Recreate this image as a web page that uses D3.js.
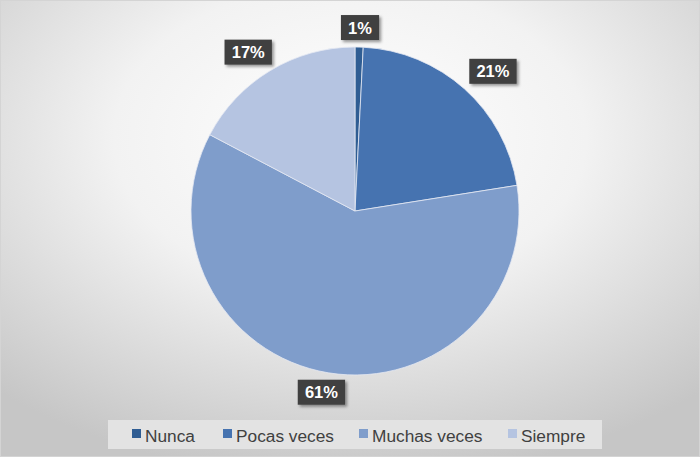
<!DOCTYPE html>
<html><head><meta charset="utf-8">
<script src="https://cdn.jsdelivr.net/npm/d3@7"></script>
<style>body{margin:0;}svg{display:block;}</style>
</head><body>
<script>
const categories = ["Nunca", "Pocas veces", "Muchas veces", "Siempre"];
const values = [0.8, 21.7, 60.2, 17.3];
const labels = ["1%", "21%", "61%", "17%"];
const colors = ["#2f5d93", "#4673b0", "#7f9dcb", "#b5c4e1"];

const W = 700, H = 457;
const svg = d3.select("body").append("svg").attr("width", W).attr("height", H);
const defs = svg.append("defs");
const grad = defs.append("radialGradient").attr("id", "bg")
  .attr("cx", "50%").attr("cy", "30%").attr("r", "75%");
grad.append("stop").attr("offset", "0%").attr("stop-color", "#ffffff");
grad.append("stop").attr("offset", "45%").attr("stop-color", "#f2f2f2");
grad.append("stop").attr("offset", "100%").attr("stop-color", "#c6c6c6");
const sh = defs.append("filter").attr("id", "sh").attr("x", "-30%").attr("y", "-30%").attr("width", "170%").attr("height", "170%");
sh.append("feDropShadow").attr("dx", 2).attr("dy", 2).attr("stdDeviation", 1.6).attr("flood-color", "#000").attr("flood-opacity", 0.4);

svg.append("rect").attr("x", 0).attr("y", 0).attr("width", W).attr("height", H).attr("fill", "url(#bg)");
svg.append("rect").attr("x", 0.5).attr("y", 0.5).attr("width", W - 1).attr("height", H - 1)
  .attr("fill", "none").attr("stroke", "#d4d4d4");

const cx = 355, cy = 211, r = 164;
const pie = d3.pie().sort(null).value(d => d)(values);
const arc = d3.arc().innerRadius(0).outerRadius(r);
const g = svg.append("g").attr("transform", `translate(${cx},${cy})`);
g.selectAll("path").data(pie).join("path")
  .attr("d", arc).attr("fill", (d, i) => colors[i])
  .attr("stroke", "#e4e9f2").attr("stroke-width", 0.8);

// labels (outside end, box pushed away from the circle)
const lg = g.append("g").style("font-family", "'Liberation Sans', Arial, sans-serif")
  .style("font-weight", "bold").style("font-size", "16.5px");
pie.forEach((d, i) => {
  const a = (d.startAngle + d.endAngle) / 2;
  const s = Math.sin(a), c = Math.cos(a);
  const R = r + 7;
  const t = lg.append("text").attr("text-anchor", "middle").attr("fill", "#fff").text(labels[i]);
  const bw = t.node().getBBox().width + 14, bh = 25;
  const x = R * s + Math.sign(s) * Math.min(1, 1.5 * Math.abs(s)) * bw / 2;
  const y = -R * c - Math.sign(c) * Math.min(1, 1.5 * Math.abs(c)) * bh / 2;
  t.attr("x", x).attr("y", y + 6);
  lg.insert("rect", "text").attr("x", x - bw / 2).attr("y", y - bh / 2)
    .attr("width", bw).attr("height", bh)
    .attr("fill", "#404040").attr("filter", "url(#sh)");
});

// legend
const leg = svg.append("g").style("font-family", "'Liberation Sans', Arial, sans-serif").style("font-size", "17.3px");
leg.append("rect").attr("x", 108).attr("y", 420).attr("width", 494).attr("height", 29).attr("fill", "#e3e3e3");
const lx = [132, 223, 359, 508];
categories.forEach((c, i) => {
  leg.append("rect").attr("x", lx[i]).attr("y", 429).attr("width", 9).attr("height", 9).attr("fill", colors[i]);
  leg.append("text").attr("x", lx[i] + 13).attr("y", 442).attr("fill", "#404040").text(c);
});
</script>
</body></html>
